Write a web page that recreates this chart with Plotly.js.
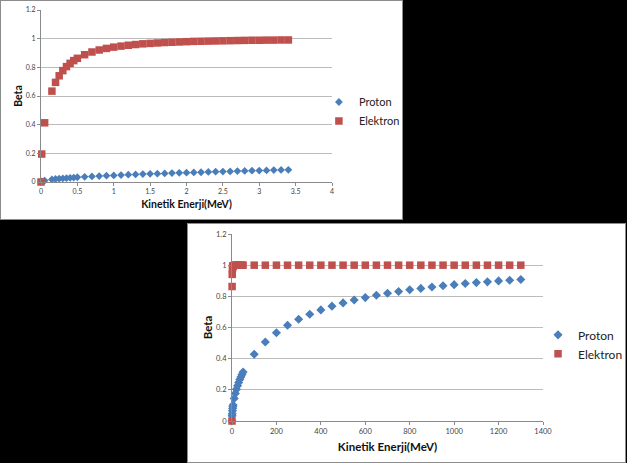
<!DOCTYPE html>
<html>
<head>
<meta charset="utf-8">
<script src="https://cdn.plot.ly/plotly-3.0.1.min.js"></script>
<style>
  html, body { margin: 0; padding: 0; background: #000; }
  body { width: 627px; height: 463px; position: relative; overflow: hidden; }
  .panel { position: absolute; background: #fff; }
  .frame { position: absolute; border: 1px solid #8c8c8c; box-sizing: border-box; pointer-events: none; }
</style>
</head>
<body>
<div id="topChart" class="panel" style="left:0px; top:0px; width:403px; height:220px;"></div>
<div class="frame" style="left:0px; top:0px; width:403px; height:220px;"></div>
<div id="bottomChart" class="panel" style="left:187px; top:223px; width:439px; height:240px;"></div>
<div class="frame" style="left:187px; top:223px; width:439px; height:240px;"></div>
<script>
// low energy run (MeV)
var lowEnergy = [0, 0.01, 0.05, 0.15, 0.2, 0.25, 0.3, 0.35, 0.4, 0.45, 0.5,
  0.6, 0.7, 0.8, 0.9, 1.0, 1.1, 1.2, 1.3, 1.4, 1.5, 1.6, 1.7, 1.8, 1.9, 2.0,
  2.1, 2.2, 2.3, 2.4, 2.5, 2.6, 2.7, 2.8, 2.9, 3.0, 3.1, 3.2, 3.3, 3.4];
var lowProton = [0, 0.005, 0.010, 0.018, 0.021, 0.023, 0.025, 0.027, 0.029, 0.031, 0.033,
  0.036, 0.039, 0.041, 0.044, 0.046, 0.048, 0.051, 0.053, 0.055, 0.057, 0.058, 0.060, 0.062, 0.064, 0.065,
  0.067, 0.068, 0.070, 0.072, 0.073, 0.074, 0.076, 0.077, 0.079, 0.080, 0.081, 0.083, 0.084, 0.085];
var lowElectron = [0, 0.195, 0.413, 0.634, 0.695, 0.741, 0.777, 0.805, 0.828, 0.847, 0.863,
  0.888, 0.907, 0.921, 0.932, 0.941, 0.948, 0.954, 0.959, 0.964, 0.967, 0.970, 0.973, 0.975, 0.977, 0.979,
  0.981, 0.982, 0.983, 0.984, 0.985, 0.986, 0.987, 0.988, 0.989, 0.989, 0.990, 0.990, 0.991, 0.991];

// high energy run (MeV)
var highEnergy = [0, 0.5, 1, 2, 3, 4, 5, 10, 15, 20, 25, 30, 35, 40, 45, 50,
  100, 150, 200, 250, 300, 350, 400, 450, 500, 550, 600, 650, 700, 750, 800,
  850, 900, 950, 1000, 1050, 1100, 1150, 1200, 1250, 1300];
var highProton = [0, 0.033, 0.046, 0.065, 0.080, 0.092, 0.103, 0.145, 0.177, 0.203, 0.226, 0.247, 0.266, 0.283, 0.299, 0.314,
  0.428, 0.507, 0.566, 0.614, 0.653, 0.685, 0.713, 0.737, 0.758, 0.776, 0.792, 0.807, 0.820, 0.831, 0.842,
  0.851, 0.860, 0.868, 0.875, 0.882, 0.888, 0.893, 0.899, 0.903, 0.908];
var highElectron = [0, 0.863, 0.941, 0.979, 0.989, 0.994, 0.996, 0.999, 1, 1, 1, 1, 1, 1, 1, 1,
  1, 1, 1, 1, 1, 1, 1, 1, 1, 1, 1, 1, 1, 1, 1,
  1, 1, 1, 1, 1, 1, 1, 1, 1, 1];

var seriesNames = ['Proton', 'Elektron'];
var blue = '#4a7ebb';
var red = '#c0504d';
var fontFamily = 'Lato, "Open Sans", sans-serif';

function makeTraces(x, proton, electron, sq, dia) {
  return [
    {
      x: x, y: proton, name: seriesNames[0], type: 'scatter', mode: 'markers',
      cliponaxis: false,
      marker: { symbol: 'diamond', size: dia, color: blue }
    },
    {
      x: x, y: electron, name: seriesNames[1], type: 'scatter', mode: 'markers',
      cliponaxis: false,
      marker: { symbol: 'square', size: sq, color: red }
    }
  ];
}

function makeLayout(opts) {
  var m = opts.margin;
  m.autoexpand = false;
  return {
    width: opts.w, height: opts.h,
    margin: m,
    paper_bgcolor: 'rgba(0,0,0,0)',
    plot_bgcolor: '#fff',
    font: { family: fontFamily, color: '#333' },
    showlegend: true,
    legend: {
      x: opts.legX, y: opts.legY, xanchor: 'left', yanchor: 'middle',
      xref: 'paper', yref: 'paper',
      font: { size: opts.legFont, color: '#222', family: fontFamily },
      itemwidth: 30, tracegroupgap: 0,
      bgcolor: 'rgba(0,0,0,0)'
    },
    xaxis: {
      range: opts.xRange, dtick: opts.xDtick, tick0: 0,
      showgrid: false, zeroline: false,
      showline: true, linecolor: '#8a8a8a', linewidth: 1,
      ticks: 'outside', ticklen: 3, tickcolor: '#8a8a8a',
      tickfont: { size: opts.tickFont, color: '#444' },
      title: { text: 'Kinetik Enerji(MeV)', font: { size: opts.titleFont, color: '#111', weight: 'bold' }, standoff: opts.xStandoff },
      automargin: false
    },
    yaxis: {
      range: [0, 1.2], dtick: 0.2, tick0: 0,
      showgrid: true, gridcolor: '#bcbcbc', gridwidth: 1,
      zeroline: false,
      showline: true, linecolor: '#8a8a8a', linewidth: 1,
      ticks: 'outside', ticklen: 3, tickcolor: '#8a8a8a',
      tickfont: { size: opts.tickFont, color: '#444' },
      title: { text: 'Beta', font: { size: opts.titleFont, color: '#111', weight: 'bold' }, standoff: opts.yStandoff },
      automargin: false
    }
  };
}

Plotly.newPlot('topChart',
  makeTraces(lowEnergy, lowProton, lowElectron, 7.5, 6),
  makeLayout({
    w: 403, h: 220,
    margin: { l: 41, r: 71, t: 10, b: 38, pad: 0 },
    xRange: [0, 4], xDtick: 0.5,
    legX: 0.955, legY: 0.41, legFont: 11,
    tickFont: 7, titleFont: 10.5, xStandoff: 6, yStandoff: 1
  }),
  { displayModeBar: false, staticPlot: true });

Plotly.newPlot('bottomChart',
  makeTraces(highEnergy, highProton, highElectron, 7.5, 7),
  makeLayout({
    w: 439, h: 240,
    margin: { l: 45, r: 83, t: 11, b: 42, pad: 0 },
    xRange: [0, 1400], xDtick: 200,
    legX: 0.984, legY: 0.41, legFont: 12,
    tickFont: 7.5, titleFont: 11.5, xStandoff: 7, yStandoff: 0
  }),
  { displayModeBar: false, staticPlot: true });
</script>
</body>
</html>
